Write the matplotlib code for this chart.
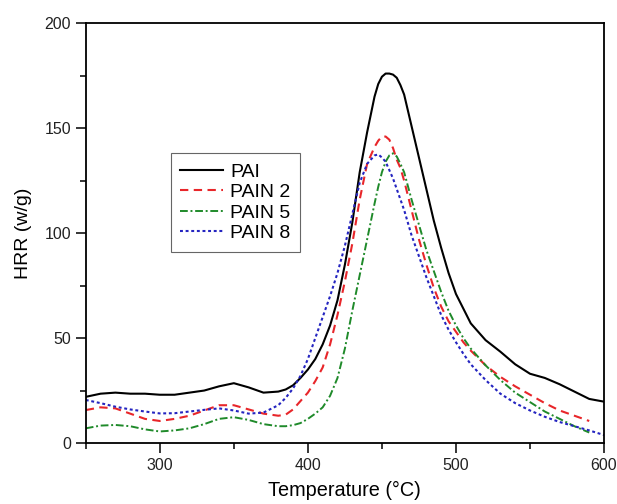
import matplotlib
matplotlib.use("Agg")
import matplotlib.pyplot as plt
import numpy as np
from matplotlib.ticker import MultipleLocator

plt.rcParams['font.family'] = ['Liberation Sans', 'DejaVu Sans']

# temperature grid (°C)
temp = [250, 260, 270, 280, 290, 300, 310, 320, 330, 340, 350, 360, 370, 380, 385,
        390, 395, 400, 405, 410, 415, 420, 425, 430, 435, 440, 445, 447.5, 450, 452.5,
        455, 457.5, 460, 462.5, 465, 470, 475, 480, 485, 490, 495, 500, 505, 510, 520,
        530, 540, 550, 560, 570, 580, 590, 600]

# HRR (W/g)
hrr_pai = [22, 23.5, 24, 23.5, 23.5, 23, 23, 24, 25, 27, 28.5, 26.5, 24, 24.5, 25.5,
           27.5, 31, 35, 40, 47, 56, 68, 85, 105, 129, 148, 165, 171, 174.5, 176,
           176, 175.5, 174, 170.5, 166, 151, 136, 121, 106, 93, 81, 71, 64, 57, 49,
           43.5, 37.5, 33, 31, 28, 24.5, 21, 19.7]
hrr_pain2 = [15.7, 17, 16.5, 14, 11.5, 10.5, 11.5, 13, 15.5, 18, 18, 16, 14, 13, 13.5,
             16, 20, 24, 29.5, 36, 47, 61, 77, 95, 116, 133, 141, 144, 146, 146,
             144.5, 140.5, 135, 131, 125, 111, 97, 85, 74, 65, 58, 53, 48, 44, 37,
             31.5, 27, 23, 19, 15.5, 13, 10.5, np.nan]
hrr_pain5 = [7, 8.3, 8.6, 8, 6.5, 5.5, 6, 7, 9, 11.5, 12.3, 11, 9, 8, 8,
             8.5, 9.5, 11.5, 14, 17, 22.5, 31, 45, 63, 80, 97, 114, 122, 129, 134,
             137, 138, 136.5, 133, 129, 116, 104, 92, 82, 72, 63, 56, 50, 45, 37,
             30, 24, 19.5, 15, 11.5, 8, 5, np.nan]
hrr_pain8 = [20.5, 19, 17.3, 16, 15, 14.1, 14.2, 15, 15.8, 16.5, 15.5, 14, 14.5, 18, 21.5,
             26, 32, 40, 50, 60, 70, 81, 94, 109, 124, 133, 137, 137.5, 136, 134,
             130, 126, 121, 116, 111, 99, 89, 79, 70, 61, 54, 48, 42.5, 37.5, 30,
             23.5, 19, 15.5, 12.5, 10, 8, 6, 3.8]

fig = plt.figure(figsize=(6.17, 5.04), dpi=100)
ax = fig.add_axes([0.139, 0.121, 0.840, 0.833])

ax.plot(temp, hrr_pai, color='black', lw=1.5, label='PAI')
ax.plot(temp, hrr_pain2, color='#e8262a', lw=1.5, dashes=(4, 2.6), label='PAIN 2')
ax.plot(temp, hrr_pain5, color='#1f8a2a', lw=1.4, dashes=(4, 1.4, 1, 1.4), label='PAIN 5')
ax.plot(temp, hrr_pain8, color='#2424c0', lw=1.5, dashes=(1.4, 1.3), label='PAIN 8')

ax.set_xlim(250, 600)
ax.set_ylim(0, 200)
ax.xaxis.set_major_locator(MultipleLocator(100))
ax.xaxis.set_minor_locator(MultipleLocator(50))
ax.yaxis.set_major_locator(MultipleLocator(50))
ax.yaxis.set_minor_locator(MultipleLocator(25))
ax.tick_params(which='major', direction='out', length=7, width=1.1, labelsize=11.5,
               labelcolor='#222222')
ax.tick_params(which='minor', direction='out', length=4, width=1.1)
for s in ax.spines.values():
    s.set_linewidth(1.3)

ax.set_xlabel('Temperature (°C)', fontsize=14.3, labelpad=6)
ax.set_ylabel('HRR (w/g)', fontsize=14, labelpad=9)

leg = ax.legend(loc='upper left', bbox_to_anchor=(0.164, 0.690), borderaxespad=0,
                fontsize=14, handlelength=2.2, handletextpad=0.35, labelspacing=0.15,
                fancybox=False, framealpha=1, edgecolor='#666666', borderpad=0.5)
leg.get_frame().set_linewidth(0.8)

plt.savefig('out.png', dpi=100)
